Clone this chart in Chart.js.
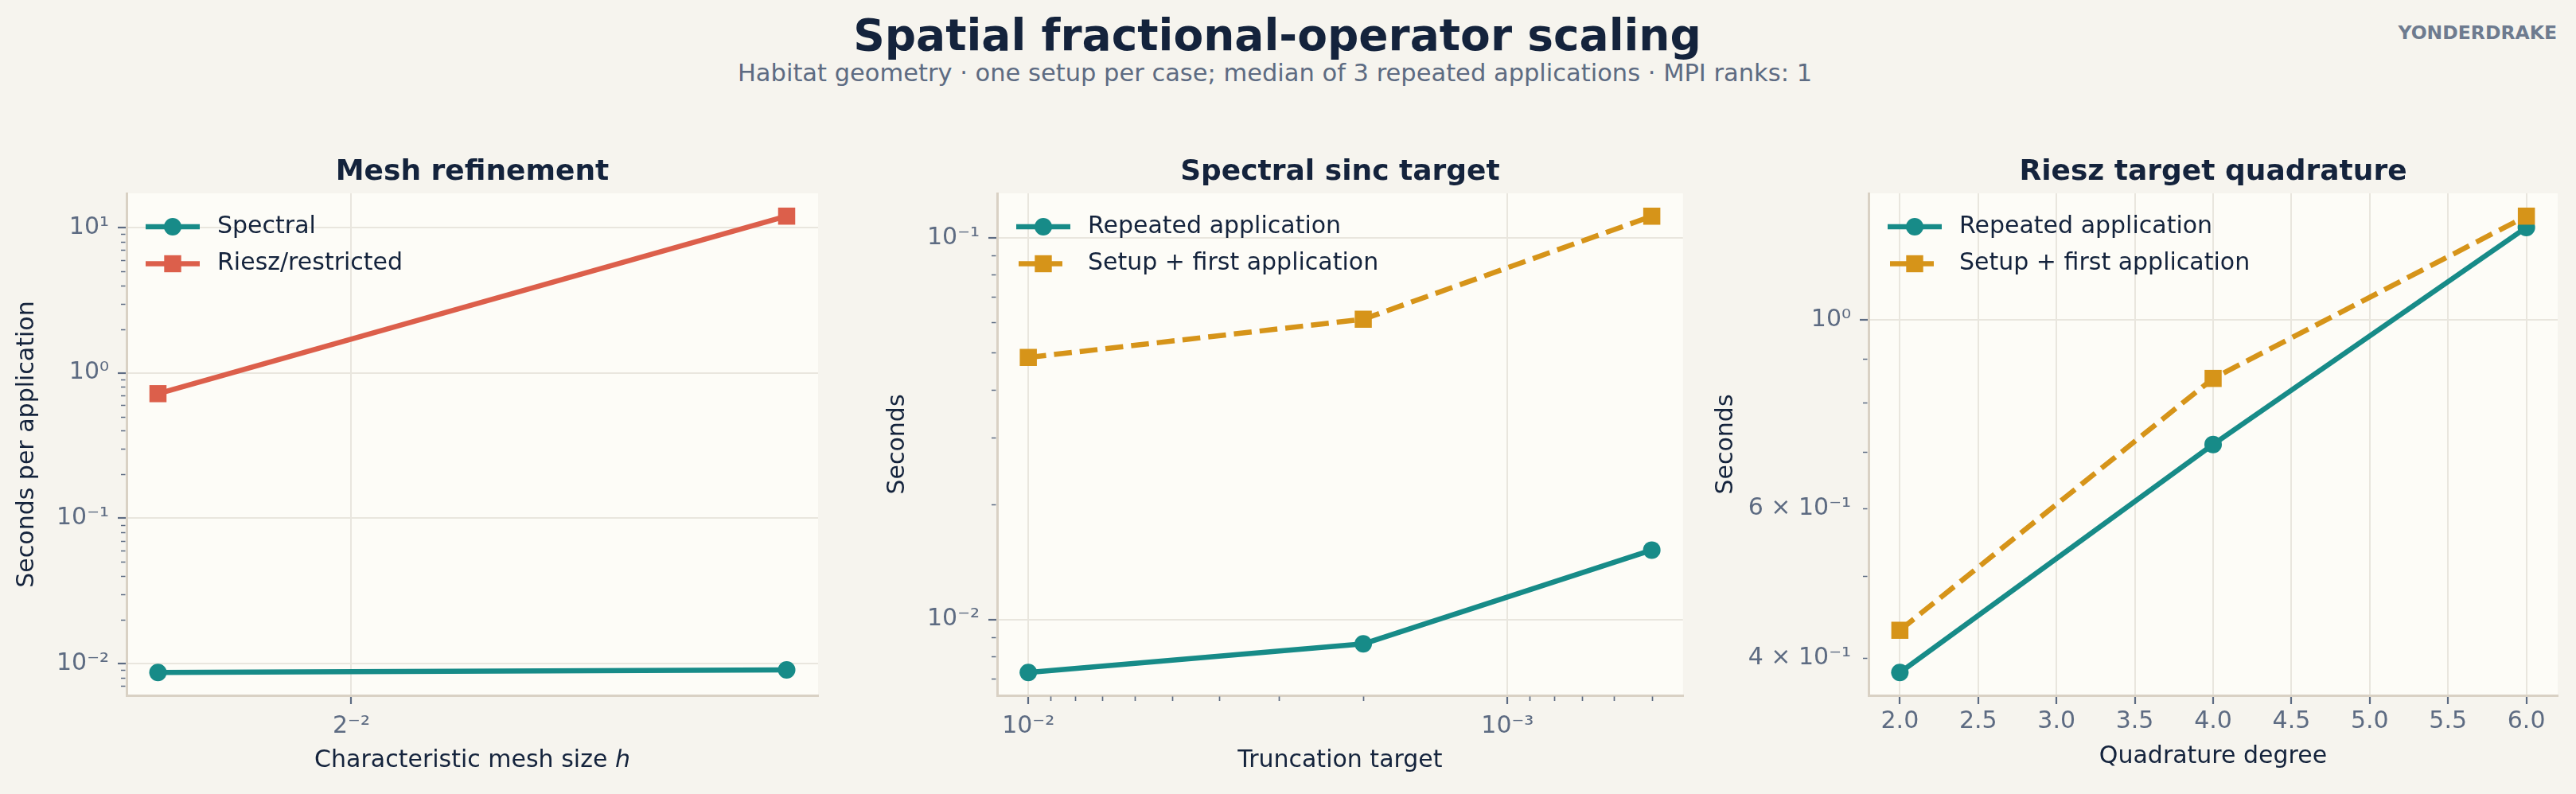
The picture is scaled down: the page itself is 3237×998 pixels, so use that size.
<!DOCTYPE html>
<html>
<head>
<meta charset="utf-8">
<title>Spatial fractional-operator scaling</title>
<script src="https://cdn.jsdelivr.net/npm/chart.js@4.4.1/dist/chart.umd.min.js"></script>
<style>
  html, body { margin: 0; padding: 0; }
  body {
    width: 3237px; height: 998px; position: relative; overflow: hidden;
    background: #f6f4ee; font-family: 'DejaVu Sans', sans-serif;
  }
  .suptitle {
    position: absolute; left: 0; width: 3210px; top: 16.5px; text-align: center;
    font: bold 55px/55px 'DejaVu Sans'; color: #14233c; white-space: nowrap;
  }
  .subtitle {
    position: absolute; left: 0; width: 3204px; top: 77px; text-align: center;
    font: 30.5px/30.5px 'DejaVu Sans'; color: #5d6b82; white-space: nowrap;
  }
  .brand {
    position: absolute; right: 24px; top: 30px;
    font: bold 23.5px/23.5px 'DejaVu Sans'; color: #6e7b8f;
  }
  canvas { position: absolute; top: 0; }
</style>
</head>
<body>
<div class="suptitle">Spatial fractional-operator scaling</div>
<div class="subtitle">Habitat geometry · one setup per case; median of 3 repeated applications · MPI ranks: 1</div>
<div class="brand">YONDERDRAKE</div>
<canvas id="mesh"></canvas>
<canvas id="sinc"></canvas>
<canvas id="quad"></canvas>
<script>
// --- data --------------------------------------------------------------
const MESH_H = [0.202, 0.404];
const MESH_SPECTRAL = [0.00866, 0.00902];
const MESH_RIESZ = [0.719, 11.98];
const MESH_X_TICKS = [0.25];
const MESH_Y_TICKS = [0.01, 0.1, 1, 10];

const SINC_TARGETS = [1e-2, 2e-3, 5e-4];
const SINC_REPEATED = [0.00726, 0.00863, 0.0152];
const SINC_SETUP = [0.0486, 0.0612, 0.114];
const SINC_X_TICKS = [1e-2, 1e-3];
const SINC_Y_TICKS = [0.01, 0.1];

const QUAD_DEGREES = [2, 4, 6];
const QUAD_REPEATED = [0.3847, 0.714, 1.286];
const QUAD_SETUP = [0.4314, 0.854, 1.326];
const QUAD_X_TICKS = [2, 2.5, 3, 3.5, 4, 4.5, 5, 5.5, 6];
const QUAD_Y_TICKS = [0.4, 0.6, 1];
const QUAD_Y_MAJOR = [1];

// --- style ---------------------------------------------------------------
const TEAL = '#178b88';
const CORAL = '#dc5f4b';
const GOLD = '#d69419';
const INK = '#14233c';
const MUTED = '#5d6b82';
const GRID = '#e9e6de';
const SPINE = '#d9d1c4';
const PANEL_BG = '#fdfcf7';
const NONE = 'rgba(0,0,0,0)';
const LINE_W = 6.5;
const DASH = [22.5, 10];

Chart.defaults.font.family = "'DejaVu Sans', sans-serif";
Chart.defaults.color = MUTED;

const SUP = { '-': '\u207B', '0': '\u2070', '1': '\u00B9', '2': '\u00B2', '3': '\u00B3',
  '4': '\u2074', '5': '\u2075', '6': '\u2076', '7': '\u2077', '8': '\u2078', '9': '\u2079' };

function pow(base, exp) {
  return base + String(exp).split('').map((c) => SUP[c]).join('');
}

function sciLabel(v) {
  const e = Math.floor(Math.log10(v) + 1e-9);
  const m = Math.round(v / Math.pow(10, e));
  return m === 1 ? pow('10', e) : m + ' \u00D7 ' + pow('10', e);
}

// matplotlib-like 5% margin in log space
function logPad(values) {
  const lo = Math.log10(Math.min(...values));
  const hi = Math.log10(Math.max(...values));
  const pad = (hi - lo) * 0.05;
  return { min: Math.pow(10, lo - pad), max: Math.pow(10, hi + pad) };
}

function minorLog(range) {
  const out = [];
  for (let e = Math.floor(Math.log10(range.min)); e <= Math.ceil(Math.log10(range.max)); e++) {
    for (let m = 2; m <= 9; m++) {
      const v = m * Math.pow(10, e);
      if (v >= range.min && v <= range.max) out.push(v);
    }
  }
  return out;
}

const points = (xs, ys) => xs.map((x, i) => ({ x, y: ys[i] }));

function series(label, xs, ys, color, style, dashed) {
  return {
    label,
    data: points(xs, ys),
    borderColor: color,
    backgroundColor: color,
    pointBackgroundColor: color,
    borderWidth: LINE_W,
    borderDash: dashed ? DASH : [],
    borderJoinStyle: 'round',
    pointStyle: style,
    pointRadius: style === 'rect' ? 15.2 : 11,
    pointBorderWidth: 0,
    tension: 0,
    order: dashed ? 0 : 1,
  };
}

// background, legend, panel title and minor ticks
const panelDecor = {
  id: 'panelDecor',
  beforeDraw(chart) {
    const { ctx, chartArea: a } = chart;
    ctx.save();
    ctx.fillStyle = PANEL_BG;
    ctx.fillRect(a.left, a.top, a.width, a.height);
    ctx.restore();
  },
  afterDatasetsDraw(chart, args, opts) {
    const { ctx, chartArea: a } = chart;
    ctx.save();
    chart.data.datasets.forEach((ds, i) => {
      const y = a.top + 42 + i * 46.5;
      const x0 = a.left + 24;
      const x1 = a.left + 92;
      const xm = a.left + 58;
      ctx.strokeStyle = ds.borderColor;
      ctx.lineWidth = ds.borderWidth;
      ctx.beginPath();
      if (ds.borderDash.length) {
        ctx.moveTo(x0 + 3, y);
        ctx.lineTo(x1 - 10, y);
      } else {
        ctx.moveTo(x0, y);
        ctx.lineTo(x1, y);
      }
      ctx.stroke();
      ctx.fillStyle = ds.borderColor;
      if (ds.pointStyle === 'rect') {
        ctx.fillRect(xm - 10.7, y - 10.7, 21.4, 21.4);
      } else {
        ctx.beginPath();
        ctx.arc(xm, y, 11, 0, Math.PI * 2);
        ctx.fill();
      }
      ctx.fillStyle = INK;
      ctx.font = "30px 'DejaVu Sans'";
      ctx.textBaseline = 'middle';
      ctx.textAlign = 'left';
      ctx.fillText(ds.label, a.left + 114, y);
    });

    ctx.fillStyle = INK;
    ctx.font = "bold 36px 'DejaVu Sans'";
    ctx.textAlign = 'center';
    ctx.textBaseline = 'alphabetic';
    ctx.fillText(opts.title, (a.left + a.right) / 2, 226);
    ctx.restore();
  },
  afterDraw(chart, args, opts) {
    const { ctx, chartArea: a, scales } = chart;
    ctx.save();
    ctx.strokeStyle = MUTED;
    ctx.lineWidth = 1.7;
    ctx.beginPath();
    (opts.minorX || []).forEach((v) => {
      const px = Math.round(scales.x.getPixelForValue(v)) + 0.5;
      ctx.moveTo(px, a.bottom + 1.5);
      ctx.lineTo(px, a.bottom + 7);
    });
    (opts.minorY || []).forEach((v) => {
      const py = Math.round(scales.y.getPixelForValue(v)) + 0.5;
      ctx.moveTo(a.left - 1.5, py);
      ctx.lineTo(a.left - 7, py);
    });
    ctx.stroke();
    ctx.restore();
  },
};

function xAxis(o) {
  return {
    type: o.type,
    reverse: !!o.reverse,
    min: o.min,
    max: o.max,
    bounds: 'data',
    afterBuildTicks: (s) => { s.ticks = o.ticks.map((v) => ({ value: v })); },
    afterFit: (s) => { s.height = 124; },
    ticks: { callback: o.label, color: MUTED, font: { size: 30 }, padding: o.tickPad, maxRotation: 0, autoSkip: false },
    grid: { color: GRID, lineWidth: 2, tickLength: 11, tickColor: MUTED, tickWidth: 2.2 },
    border: { display: true, color: SPINE, width: 3 },
    title: { display: true, text: o.title, color: INK, font: { size: 30 }, padding: { top: 0, bottom: o.titlePad } },
  };
}

function yAxis(o) {
  const major = o.major || o.ticks;
  const isMajor = (c) => c.tick && major.includes(c.tick.value);
  return {
    type: 'logarithmic',
    min: o.range.min,
    max: o.range.max,
    bounds: 'data',
    afterBuildTicks: (s) => { s.ticks = o.ticks.map((v) => ({ value: v })); },
    afterFit: (s) => { s.width = o.width; },
    ticks: { callback: (v) => sciLabel(v), color: MUTED, font: { size: 30 }, padding: 11, autoSkip: false },
    grid: {
      color: (c) => (isMajor(c) ? GRID : NONE),
      lineWidth: 2,
      tickLength: 11,
      tickColor: (c) => (isMajor(c) ? MUTED : NONE),
      tickWidth: 2.2,
    },
    border: { display: true, color: SPINE, width: 3 },
    title: { display: true, text: o.title, color: INK, font: { size: 30 }, padding: { top: o.titlePad, bottom: 0 } },
  };
}

function panel(id, left, width, padRight, spec) {
  const canvas = document.getElementById(id);
  canvas.style.left = left + 'px';
  canvas.width = width;
  canvas.height = 998;
  return new Chart(canvas, {
    type: 'line',
    data: { datasets: spec.datasets },
    plugins: [panelDecor],
    options: {
      responsive: false,
      animation: false,
      events: [],
      layout: { padding: { top: 243, right: padRight, bottom: 0, left: 0 } },
      plugins: {
        legend: { display: false },
        title: { display: false },
        tooltip: { enabled: false },
        panelDecor: { title: spec.title, minorX: spec.minorX, minorY: spec.minorY },
      },
      scales: { x: spec.x, y: spec.y },
    },
  });
}

// --- panel 1: mesh refinement ------------------------------------------
const meshXRange = logPad(MESH_H);
const meshYRange = logPad(MESH_SPECTRAL.concat(MESH_RIESZ));
panel('mesh', 0, 1060, 32, {
  title: 'Mesh refinement',
  datasets: [
    series('Spectral', MESH_H, MESH_SPECTRAL, TEAL, 'circle', false),
    series('Riesz/restricted', MESH_H, MESH_RIESZ, CORAL, 'rect', false),
  ],
  x: xAxis({
    type: 'logarithmic', min: meshXRange.min, max: meshXRange.max, ticks: MESH_X_TICKS,
    label: (v) => pow('2', Math.round(Math.log2(v))), tickPad: 10,
    title: 'Characteristic mesh size \u210E', titlePad: 23.4,
  }),
  y: yAxis({ range: meshYRange, ticks: MESH_Y_TICKS, width: 159, title: 'Seconds per application', titlePad: 16 }),
  minorY: minorLog(meshYRange),
});

// --- panel 2: spectral sinc target -------------------------------------
const sincXRange = logPad(SINC_TARGETS);
const sincYRange = logPad(SINC_REPEATED.concat(SINC_SETUP));
panel('sinc', 1080, 1050, 8, {
  title: 'Spectral sinc target',
  datasets: [
    series('Repeated application', SINC_TARGETS, SINC_REPEATED, TEAL, 'circle', false),
    series('Setup + first application', SINC_TARGETS, SINC_SETUP, GOLD, 'rect', true),
  ],
  x: xAxis({
    type: 'logarithmic', reverse: true, min: sincXRange.min, max: sincXRange.max, ticks: SINC_X_TICKS,
    label: (v) => sciLabel(v), tickPad: 10, title: 'Truncation target', titlePad: 23.4,
  }),
  y: yAxis({ range: sincYRange, ticks: SINC_Y_TICKS, width: 173, title: 'Seconds', titlePad: 30.6 }),
  minorX: minorLog(sincXRange),
  minorY: minorLog(sincYRange),
});

// --- panel 3: riesz target quadrature ----------------------------------
const quadYRange = logPad(QUAD_REPEATED.concat(QUAD_SETUP));
panel('quad', 2130, 1107, 23, {
  title: 'Riesz target quadrature',
  datasets: [
    series('Repeated application', QUAD_DEGREES, QUAD_REPEATED, TEAL, 'circle', false),
    series('Setup + first application', QUAD_DEGREES, QUAD_SETUP, GOLD, 'rect', true),
  ],
  x: xAxis({
    type: 'linear', min: 1.8, max: 6.2, ticks: QUAD_X_TICKS,
    label: (v) => v.toFixed(1), tickPad: 4.5, title: 'Quadrature degree', titlePad: 28.7,
  }),
  y: yAxis({ range: quadYRange, ticks: QUAD_Y_TICKS, major: QUAD_Y_MAJOR, width: 218, title: 'Seconds', titlePad: 21.6 }),
  minorY: minorLog(quadYRange),
});
</script>
</body>
</html>
